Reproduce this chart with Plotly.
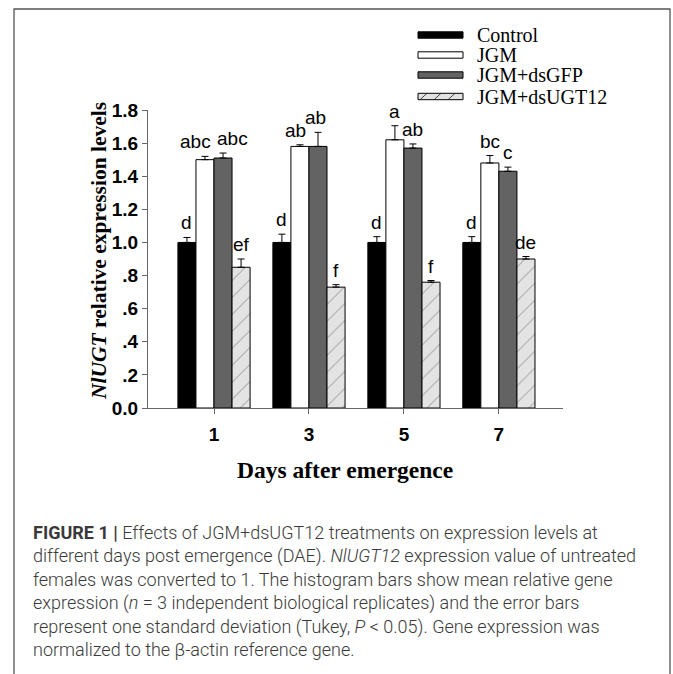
import plotly.graph_objects as go

days = ["1", "3", "5", "7"]
series = ["Control", "JGM", "JGM+dsGFP", "JGM+dsUGT12"]
values = {
    "Control":     [1.00, 1.00, 1.00, 1.00],
    "JGM":         [1.50, 1.58, 1.62, 1.48],
    "JGM+dsGFP":   [1.51, 1.58, 1.57, 1.43],
    "JGM+dsUGT12": [0.85, 0.73, 0.76, 0.90],
}
errors = {
    "Control":     [0.03, 0.05, 0.035, 0.035],
    "JGM":         [0.02, 0.01, 0.085, 0.045],
    "JGM+dsGFP":   [0.03, 0.085, 0.025, 0.025],
    "JGM+dsUGT12": [0.05, 0.015, 0.01, 0.015],
}
letters = {
    "Control":     ["d", "d", "d", "d"],
    "JGM":         ["abc", "ab", "a", "bc"],
    "JGM+dsGFP":   ["abc", "ab", "ab", "c"],
    "JGM+dsUGT12": ["ef", "f", "f", "de"],
}
y_ticks = [0.0, 0.2, 0.4, 0.6, 0.8, 1.0, 1.2, 1.4, 1.6, 1.8]
y_ticktext = ["0.0", ".2", ".4", ".6", ".8", "1.0", "1.2", "1.4", "1.6", "1.8"]

FILL = {"Control": "#000000", "JGM": "#ffffff", "JGM+dsGFP": "#636363", "JGM+dsUGT12": "#e3e3e3"}
HATCH = dict(shape="/", fgcolor="#222222", bgcolor="#e3e3e3", size=12, solidity=0.07)

BARGAP = 0.24
xs = list(range(len(days)))
fig = go.Figure()
for s in series:
    marker = dict(color=FILL[s], line=dict(color="#000000", width=1))
    if s == "JGM+dsUGT12":
        marker["pattern"] = HATCH
    fig.add_trace(go.Bar(
        name=s, x=xs, y=values[s], marker=marker, showlegend=False,
        error_y=dict(type="data", array=errors[s], arrayminus=[0] * len(days),
                     symmetric=False, color="#000000", thickness=1, width=3.5),
    ))

L, R, T, B = 148, 110, 110, 266
PW, PH = 673 - L - R, 674 - T - B
def px(x):
    return (x - L) / PW
def py(y):
    return (674 - B - y) / PH

# significance letters above the error bars
bw = (1 - BARGAP) / len(series)
label_shift = {("JGM", 0): -9, ("JGM+dsGFP", 0): 9, ("JGM", 1): -4, ("JGM+dsGFP", 1): -2}
for k, s in enumerate(series):
    for i in xs:
        fig.add_annotation(
            x=i + (k - 1.5) * bw, y=values[s][i] + errors[s][i], xref="x", yref="y",
            text=letters[s][i], showarrow=False, yanchor="bottom", xanchor="center",
            yshift=2, xshift=label_shift.get((s, i), 0),
            font=dict(family="Liberation Sans, Arial", size=19, color="#000000"))

# legend (drawn manually to match the wide, flat key boxes)
leg_y = [35, 55, 75, 96.5]
for s, yy in zip(series, leg_y):
    fig.add_shape(type="rect", xref="paper", yref="paper",
                  x0=px(418), x1=px(463), y0=py(yy + 3.2), y1=py(yy - 3.2),
                  line=dict(color="#000000", width=1), fillcolor=FILL[s])
    fig.add_annotation(xref="paper", yref="paper", x=px(475), y=py(yy),
                       xanchor="left", yanchor="middle", showarrow=False, text=s,
                       font=dict(family="Liberation Serif, Times New Roman", size=20, color="#000000"))
for xa in [420, 434, 448]:
    fig.add_shape(type="line", xref="paper", yref="paper",
                  x0=px(xa), x1=px(xa + 7), y0=py(96.5 + 3.2), y1=py(96.5 - 3.2),
                  line=dict(color="#222222", width=0.8))

# axis titles
fig.add_annotation(xref="paper", yref="paper", x=px(98.5), y=py(251.5),
                   xanchor="center", yanchor="middle", textangle=-90, showarrow=False,
                   text="<b><i>NlUGT</i> relative expression levels</b>",
                   font=dict(family="Liberation Serif, Times New Roman", size=21.5, color="#000000"))
fig.add_annotation(xref="paper", yref="paper", x=px(344.5), y=py(470),
                   xanchor="center", yanchor="middle", showarrow=False,
                   text="<b>Days after emergence</b>",
                   font=dict(family="Liberation Serif, Times New Roman", size=23.5, color="#000000"))

caption = ("<b>FIGURE 1 |</b> Effects of JGM+dsUGT12 treatments on expression levels at<br>"
           "different days post emergence (DAE). <i>NlUGT12</i> expression value of untreated<br>"
           "females was converted to 1. The histogram bars show mean relative gene<br>"
           "expression (<i>n</i> = 3 independent biological replicates) and the error bars<br>"
           "represent one standard deviation (Tukey, <i>P</i> &lt; 0.05). Gene expression was<br>"
           "normalized to the β-actin reference gene.")

fig.add_annotation(xref="paper", yref="paper", x=px(31), y=py(520),
                   xanchor="left", yanchor="top", align="left", showarrow=False,
                   text=caption,
                   font=dict(family="Roboto, Liberation Sans", size=18, color="#3a3a3a", weight=300))

fig.add_shape(type="rect", xref="paper", yref="paper",
              x0=px(14), x1=px(670), y0=py(700), y1=py(9),
              line=dict(color="#555555", width=1.3), fillcolor="rgba(0,0,0,0)", layer="below")

fig.update_layout(
    width=673, height=674,
    margin=dict(l=L, r=R, t=T, b=B, pad=0),
    paper_bgcolor="white", plot_bgcolor="white",
    barmode="group", bargap=BARGAP, bargroupgap=0,
    showlegend=False,
    xaxis=dict(range=[-0.695, 3.675], tickvals=xs, ticktext=days,
               showline=True, linecolor="#666666", linewidth=1,
               ticks="outside", ticklen=5, tickcolor="#666666", ticklabelstandoff=4,
               tickfont=dict(family="Liberation Sans, Arial", size=19, color="#000000", weight="bold"),
               showgrid=False, zeroline=False),
    yaxis=dict(range=[0, 1.8], tickvals=y_ticks, ticktext=y_ticktext,
               showline=True, linecolor="#666666", linewidth=1,
               ticks="outside", ticklen=5, tickcolor="#666666",
               tickfont=dict(family="Liberation Sans, Arial", size=19, color="#000000", weight="bold"),
               showgrid=False, zeroline=False),
)

fig.write_html("out.html")
